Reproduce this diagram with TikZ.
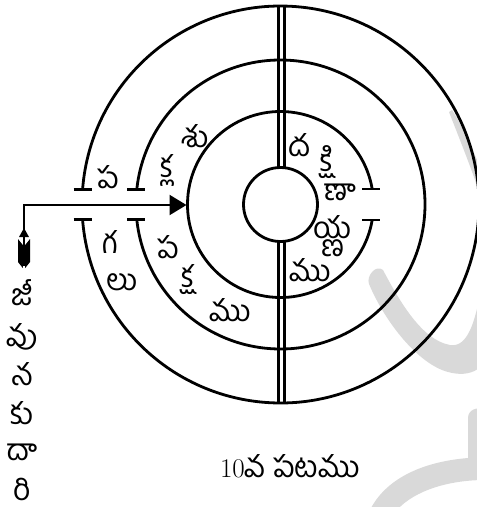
\documentclass[tikz,border=0pt]{standalone}
\usepackage{fontspec}
\newfontfamily\te[Script=Telugu]{Hind Guntur}
\usetikzlibrary{arrows.meta}
\begin{document}
\begin{tikzpicture}[x=1pt,y=-1pt,
  ring/.style={line width=2.8pt},
  capline/.style={line width=2.8pt},
  lbl/.style={font=\te\fontsize{30}{32}\selectfont, inner sep=0pt},
  wm/.style={fill=black!15}]
\useasboundingbox (0,0) rectangle (477,507);
% watermark
\fill[wm] (452,110) .. controls (462,125) and (472,150) .. (482,170) -- (500,250) -- (495,340) .. controls (488,370) and (470,378) .. (448,372) .. controls (418,364) and (385,322) .. (369,284) .. controls (366,276) and (376,264) .. (383,270) .. controls (400,302) and (422,340) .. (450,345) .. controls (468,348) and (475,320) .. (480,295) .. controls (490,250) and (485,210) .. (475,180) .. controls (468,160) and (458,135) .. (449,112) -- cycle;
\fill[wm] (370,510) .. controls (385,480) and (420,462) .. (468,458) -- (468,418) .. controls (468,410) and (477,406) .. (485,410) -- (485,480) .. controls (450,480) and (415,490) .. (397,510) -- cycle;
% circles
\coordinate (c) at (280.5,204.5);
\draw[ring] (c) ++(184.3:198.5) arc[start angle=184.3, end angle=535.7, radius=198.5];
\draw[ring] (c) ++(185.9:144.5) arc[start angle=185.9, end angle=534.1, radius=144.5];
\draw[ring] (c) ++(9.6:93) arc[start angle=9.6, end angle=350.4, radius=93];
\draw[ring] (c) circle[radius=37];
% caps
\draw[capline] (73.5,189.5) -- (91.5,189.5);
\draw[capline] (73.5,219.5) -- (91.5,219.5);
\draw[capline] (127,189.5) -- (145,189.5);
\draw[capline] (127,219.5) -- (145,219.5);
\draw[capline] (362,189) -- (380,189);
\draw[capline] (362,220) -- (380,220);
% double line
\draw[ring] (278.2,6) -- (278.2,168);
\draw[ring] (284.8,6) -- (284.8,168);
\draw[ring] (278.2,241) -- (278.2,403);
\draw[ring] (284.8,241) -- (284.8,403);
% arrow
\coordinate (tail) at (24,266);
\coordinate (corner) at (24,205);
\coordinate (tip) at (186.5,205);
\draw[line width=2.2pt, -{Triangle[length=17pt,width=20pt]}] (tail) -- (corner) -- (tip);
\fill (24,228) -- (29,237) -- (19,237) -- cycle;
\fill (22.8,245) -- (18,239) -- (18,262) -- (22.8,268) -- cycle;
\fill (25.2,245) -- (30,239) -- (30,262) -- (25.2,268) -- cycle;
% labels outer ring
\node[lbl] (o1) at (108,177) {ప};
\node[lbl] (o2) at (110,242) {గ};
\node[lbl] (o3) at (122,282) {లు};
% ring 2
\node[lbl] (m1) at (195,136) {శు};
\node[lbl] (m2) at (167,170) {క్ల};
\node[lbl] (m3) at (168,247) {ప};
\node[lbl] (m4) at (188,280) {క్ష};
\node[lbl] (m5) at (230,310) {ము};
% ring 3
\node[lbl] (i1) at (300,145) {ద};
\node[lbl] (i2) at (327,162) {క్షి};
\node[lbl] (i3) at (340,192) {ణా};
\node[lbl] (i4) at (333,227) {య};
\node[lbl] (i5) at (333,248) {ణ};
\node[lbl] (i6) at (310,270) {ము};
% vertical text
\node[lbl] (v1) at (22,293) {జీ};
\node[lbl] (v2) at (22,337) {వు};
\node[lbl] (v3) at (22,374) {న};
\node[lbl] (v4) at (22,413) {కు};
\node[lbl] (v5) at (22,452) {దా};
\node[lbl] (v6) at (22,489) {రి};
% caption
\node[inner sep=0pt, font=\fontsize{27}{30}\selectfont] (cap) at (290,466) {10{\te\fontsize{30}{32}\selectfont వ పటము}};
\end{tikzpicture}
\end{document}
